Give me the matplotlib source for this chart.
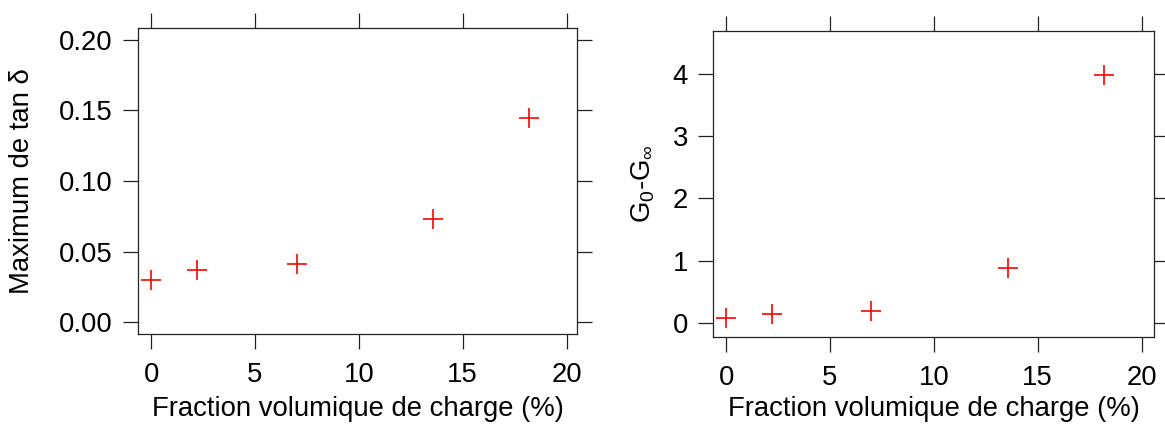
import matplotlib
matplotlib.use('Agg')
import matplotlib.pyplot as plt
from matplotlib.ticker import FormatStrFormatter

plt.rcParams['font.family'] = ['Liberation Sans', 'DejaVu Sans']
plt.rcParams['mathtext.fontset'] = 'custom'
plt.rcParams['mathtext.rm'] = 'Liberation Sans'
plt.rcParams['mathtext.it'] = 'Liberation Sans:italic'
plt.rcParams['mathtext.sf'] = 'Liberation Sans'

# Data
fraction = [0, 2.2, 7.0, 13.55, 18.2]
tan_delta_max = [0.030, 0.037, 0.041, 0.073, 0.145]
g0_minus_ginf = [0.075, 0.14, 0.19, 0.88, 3.98]

xlabel = "Fraction volumique de charge (%)"
x_ticks = [0, 5, 10, 15, 20]
left_yticks = [0.00, 0.05, 0.10, 0.15, 0.20]
right_yticks = [0, 1, 2, 3, 4]

FS = 19.8

fig = plt.figure(figsize=(11.65, 4.25), dpi=100)
ax1 = fig.add_axes([138 / 1165, 91 / 425, 439 / 1165, 306 / 425])
ax2 = fig.add_axes([713 / 1165, 88 / 425, 441 / 1165, 306 / 425])


def style_axis(ax):
    for sp in ax.spines.values():
        sp.set_linewidth(0.9)
        sp.set_color('#222222')
    ax.tick_params(which='both', direction='out', length=11, width=0.9,
                   color='#222222', labelsize=FS, top=True, right=True,
                   labeltop=False, labelright=False)
    ax.tick_params(axis='y', pad=7)
    ax.tick_params(axis='x', pad=9)


# left panel
ax1.plot(fraction, tan_delta_max, linestyle='none', marker='+', markersize=14,
         markeredgewidth=1.2, color='red')
ax1.set_xlim(-0.63, 20.5)
ax1.set_ylim(-0.0085, 0.2085)
ax1.set_xticks(x_ticks)
ax1.set_yticks(left_yticks)
ax1.yaxis.set_major_formatter(FormatStrFormatter('%.2f'))
style_axis(ax1)
ax1.set_xlabel(xlabel, fontsize=FS, va='center')
ax1.xaxis.set_label_coords(0.5, -0.245)
ax1.set_ylabel("Maximum de tan δ", fontsize=FS, va='center')
ax1.yaxis.set_label_coords(-0.264, 0.5)

# right panel
ax2.plot(fraction, g0_minus_ginf, linestyle='none', marker='+', markersize=14,
         markeredgewidth=1.2, color='red')
ax2.set_xlim(-0.63, 20.6)
ax2.set_ylim(-0.225, 4.69)
ax2.set_xticks(x_ticks)
ax2.set_yticks(right_yticks)
style_axis(ax2)
ax2.set_xlabel(xlabel, fontsize=FS, va='center')
ax2.xaxis.set_label_coords(0.5, -0.235)
ax2.set_ylabel(r"$\mathrm{G_0}$-$\mathrm{G_\infty}$", fontsize=FS, va='center')
ax2.yaxis.set_label_coords(-0.159, 0.5)

fig.savefig('out.png', dpi=100)
